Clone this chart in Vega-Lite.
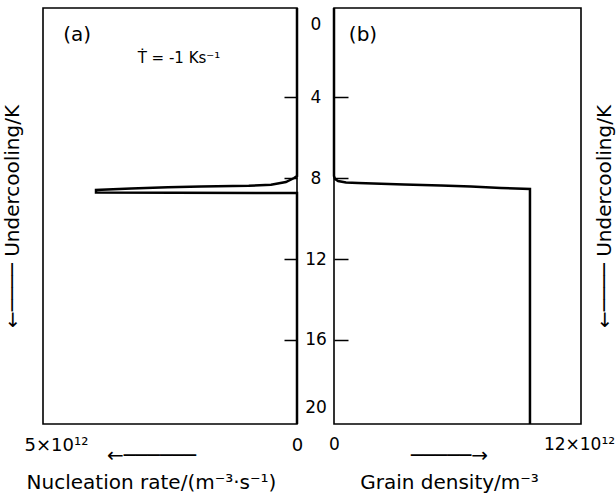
{
  "$schema": "https://vega.github.io/schema/vega-lite/v6.json",
  "background": "white",
  "padding": {"left": 1, "top": 2, "right": 0, "bottom": 0},
  "bounds": "flush",
  "spacing": 37,
  "config": {
    "font": "DejaVu Sans",
    "view": {"stroke": "black", "strokeWidth": 1.6},
    "axis": {"grid": false, "domain": false, "labelColor": "black", "titleColor": "black", "tickColor": "black", "titleFontWeight": "normal", "labelFont": "DejaVu Sans", "titleFont": "DejaVu Sans"},
    "text": {"color": "black"},
    "line": {"color": "black"}
  },
  "hconcat": [
    {
      "width": 254,
      "height": 416,
      "layer": [
        {
          "data": {"values": [
            {"step": 0, "undercooling": -0.4, "rate": 0},
            {"step": 1, "undercooling": 7.9, "rate": 0},
            {"step": 2, "undercooling": 8.0, "rate": 0.06e12},
            {"step": 3, "undercooling": 8.2, "rate": 0.23e12},
            {"step": 4, "undercooling": 8.33, "rate": 0.54e12},
            {"step": 5, "undercooling": 8.38, "rate": 1.0e12},
            {"step": 6, "undercooling": 8.42, "rate": 1.99e12},
            {"step": 7, "undercooling": 8.45, "rate": 2.68e12},
            {"step": 8, "undercooling": 8.52, "rate": 3.44e12},
            {"step": 9, "undercooling": 8.59, "rate": 4.17e12},
            {"step": 10, "undercooling": 8.72, "rate": 4.17e12},
            {"step": 11, "undercooling": 8.74, "rate": 0},
            {"step": 12, "undercooling": 20.15, "rate": 0}
          ]},
          "mark": {"type": "line", "strokeWidth": 2.5, "color": "black"},
          "encoding": {
            "x": {
              "field": "rate", "type": "quantitative",
              "scale": {"domain": [0, 5.27e12], "reverse": true, "nice": false, "zero": false},
              "axis": {
                "orient": "bottom", "values": [0, 5e12],
                "labelExpr": "datum.value == 0 ? '0' : '5×10¹²'",
                "ticks": false, "tickSize": 0, "labelPadding": 12, "labelFontSize": 18, "labelFlush": false,
                "title": ["\u2003\u2003←──────", "Nucleation rate/(m⁻³·s⁻¹)"],
                "titleFontSize": 20, "titleX": 108, "titleY": 37, "titleAlign": "center", "titleBaseline": "alphabetic", "titleLineHeight": 27
              }
            },
            "y": {
              "field": "undercooling", "type": "quantitative",
              "scale": {"domain": [-0.4, 20.15], "reverse": true, "nice": false, "zero": false},
              "axis": {
                "orient": "right", "values": [0, 4, 8, 12, 16, 20],
                "tickSize": -13, "tickWidth": 1.5,
                "tickOpacity": {"condition": {"test": "datum.value === 0 || datum.value === 20", "value": 0}, "value": 1},
                "labelAlign": "center", "labelPadding": 31.5, "labelFontSize": 17,
                "labelOffset": {"condition": [{"test": "datum.value === 0", "value": 8}, {"test": "datum.value === 20", "value": -13}], "value": 0},
                "title": null
              }
            },
            "order": {"field": "step", "type": "quantitative"}
          }
        },
        {
          "data": {"values": [
            {"rate": 4.56e12, "undercooling": 0.94, "label": "(a)"},
            {"rate": 2.45e12, "undercooling": 2.07, "label": "Ṫ = -1 Ks⁻¹"}
          ]},
          "mark": {"type": "text", "color": "black"},
          "encoding": {
            "x": {"field": "rate", "type": "quantitative"},
            "y": {
              "field": "undercooling", "type": "quantitative",
              "scale": {"domain": [-0.4, 20.15], "reverse": true, "nice": false, "zero": false},
              "axis": {"orient": "left", "ticks": false, "labels": false, "title": "←──── Undercooling/K", "titleFontSize": 20, "titlePadding": 21}
            },
            "text": {"field": "label"},
            "size": {"condition": {"test": "datum.label === '(a)'", "value": 20}, "value": 15}
          }
        }
      ],
      "resolve": {"scale": {"y": "independent"}, "axis": {"y": "independent"}}
    },
    {
      "width": 247,
      "height": 416,
      "layer": [
        {
          "data": {"values": [
            {"step": 0, "undercooling": -0.4, "density": 0},
            {"step": 1, "undercooling": 7.9, "density": 0},
            {"step": 2, "undercooling": 8.05, "density": 0.05e12},
            {"step": 3, "undercooling": 8.15, "density": 0.2e12},
            {"step": 4, "undercooling": 8.22, "density": 0.59e12},
            {"step": 5, "undercooling": 8.25, "density": 1.18e12},
            {"step": 6, "undercooling": 8.32, "density": 3.43e12},
            {"step": 7, "undercooling": 8.37, "density": 5.24e12},
            {"step": 8, "undercooling": 8.42, "density": 6.71e12},
            {"step": 9, "undercooling": 8.49, "density": 8.18e12},
            {"step": 10, "undercooling": 8.54, "density": 9.6e12},
            {"step": 11, "undercooling": 20.15, "density": 9.6e12}
          ]},
          "mark": {"type": "line", "strokeWidth": 2.5, "color": "black"},
          "encoding": {
            "x": {
              "field": "density", "type": "quantitative",
              "scale": {"domain": [0, 12.1e12], "nice": false, "zero": false},
              "axis": {
                "orient": "bottom", "values": [0, 12e12],
                "labelExpr": "datum.value == 0 ? '0' : '12×10¹²'",
                "ticks": false, "tickSize": 0, "labelPadding": 12, "labelFontSize": 17, "labelFlush": false,
                "title": ["─────→", "Grain density/m⁻³"],
                "titleFontSize": 20, "titleX": 115, "titleY": 37, "titleAlign": "center", "titleBaseline": "alphabetic", "titleLineHeight": 27
              }
            },
            "y": {
              "field": "undercooling", "type": "quantitative",
              "scale": {"domain": [-0.4, 20.15], "reverse": true, "nice": false, "zero": false},
              "axis": {"orient": "left", "values": [4, 8, 12, 16], "tickSize": -14, "tickWidth": 1.5, "labels": false, "title": null}
            },
            "order": {"field": "step", "type": "quantitative"}
          }
        },
        {
          "data": {"values": [
            {"density": 1.42e12, "undercooling": 0.94, "label": "(b)"}
          ]},
          "mark": {"type": "text", "color": "black", "fontSize": 20},
          "encoding": {
            "x": {"field": "density", "type": "quantitative"},
            "y": {
              "field": "undercooling", "type": "quantitative",
              "scale": {"domain": [-0.4, 20.15], "reverse": true, "nice": false, "zero": false},
              "axis": {"orient": "right", "ticks": false, "labels": false, "title": "←──── Undercooling/K", "titleFontSize": 20, "titleAngle": 270, "titleBaseline": "top", "titlePadding": 13}
            },
            "text": {"field": "label"}
          }
        }
      ],
      "resolve": {"scale": {"y": "independent"}, "axis": {"y": "independent"}}
    }
  ]
}
